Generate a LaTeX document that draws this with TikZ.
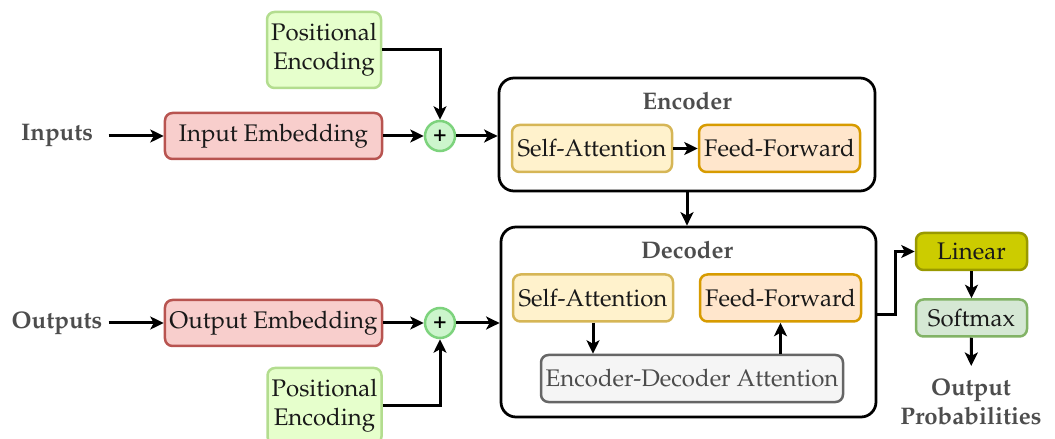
\documentclass[tikz,border=0pt]{standalone}
\usepackage[T1]{fontenc}
\usepackage{mathpazo}
\usetikzlibrary{arrows.meta,positioning}

\definecolor{embfill}{HTML}{F8CECC}
\definecolor{embline}{HTML}{B85450}
\definecolor{pefill}{HTML}{E6FFCC}
\definecolor{peline}{HTML}{B3DD8F}
\definecolor{safill}{HTML}{FFF2CC}
\definecolor{saline}{HTML}{D6B656}
\definecolor{fffill}{HTML}{FFE6CC}
\definecolor{ffline}{HTML}{D79B00}
\definecolor{edfill}{HTML}{F5F5F5}
\definecolor{edline}{HTML}{666666}
\definecolor{linfill}{HTML}{CCCC00}
\definecolor{linline}{HTML}{999900}
\definecolor{smfill}{HTML}{D5E8D4}
\definecolor{smline}{HTML}{82B366}
\definecolor{plusfill}{HTML}{CCF5CC}
\definecolor{plusline}{HTML}{7DD37D}
\definecolor{labgray}{HTML}{4D4D4D}

\tikzset{
  block/.style={draw, rounded corners=3pt, line width=1pt, align=center, inner sep=0pt, text=black!90,
    font=\fontsize{9.6pt}{11.6pt}\selectfont},
  embbox/.style={block, fill=embfill, draw=embline, minimum width=86.8pt, minimum height=18.4pt},
  pebox/.style={block, fill=pefill, draw=peline, minimum width=45.6pt, minimum height=30.4pt},
  sabox/.style={block, fill=safill, draw=saline, minimum width=64pt, minimum height=18.8pt},
  ffbox/.style={block, fill=fffill, draw=ffline, minimum width=64.4pt, minimum height=18.8pt},
  edbox/.style={block, fill=edfill, draw=edline, minimum width=120.8pt, minimum height=18.8pt, text=black!70},
  outbox/.style={block, minimum width=44.4pt, minimum height=14.8pt},
  stack/.style={draw, rounded corners=6pt, line width=1.1pt, inner sep=0pt},
  plus/.style={circle, draw=plusline, fill=plusfill, line width=1pt, minimum size=12pt, inner sep=0pt, font=\small\bfseries},
  sidelabel/.style={font=\fontsize{9.6pt}{11.6pt}\selectfont\bfseries, text=labgray, inner sep=0pt, minimum width=40.8pt},
  title/.style={font=\fontsize{9.6pt}{11.6pt}\selectfont\bfseries, text=labgray, inner sep=0pt},
  arr/.style={-{Stealth[length=5.4pt, width=5.2pt, inset=1.4pt]}, line width=1.2pt}
}

\begin{document}
\begin{tikzpicture}[x=0.4pt, y=-0.4pt]
\useasboundingbox (0,0) rectangle (1055,439);

% encoder side
\node[sidelabel] (inputs) at (57,136) {Inputs};
\node[embbox] (inemb) at (273.5,136) {Input Embedding};
\node[plus] (plusin) at (440,136) {+};
\node[pebox] (pein) at (324,50) {Positional\\Encoding};

\node[stack, minimum width=150.4pt, minimum height=45.2pt] (encoder) at (687,134.5) {};
\node[title] (enctitle) at (687,101) {Encoder};
\node[sabox] (encsa) at (592,148.5) {Self-Attention};
\node[ffbox] (encff) at (779.5,148.5) {Feed-Forward};

% decoder side
\node[sidelabel] (outputs) at (57,323) {Outputs};
\node[embbox] (outemb) at (273.5,323) {Output Embedding};
\node[plus] (plusout) at (440,323) {+};
\node[pebox] (peout) at (324.5,406) {Positional\\Encoding};

\node[stack, minimum width=150pt, minimum height=76pt] (decoder) at (688.5,322) {};
\node[title] (dectitle) at (687,250) {Decoder};
\node[sabox] (decsa) at (593,298) {Self-Attention};
\node[ffbox] (decff) at (780.5,298) {Feed-Forward};
\node[edbox] (decatt) at (692,378.5) {Encoder-Decoder Attention};

% output head
\node[outbox, fill=linfill, draw=linline] (linear) at (971.5,251.5) {Linear};
\node[outbox, fill=smfill, draw=smline] (softmax) at (971.5,318) {Softmax};
\node[title, align=center, inner sep=5pt] (probs) at (971,402) {Output\\Probabilities};

% connectors
\draw[arr] (inputs) -- (inemb);
\draw[arr] (inemb) -- (plusin);
\draw[arr] (pein) -| (plusin);
\draw[arr] (plusin) -- (plusin -| encoder.west);
\draw[arr] (encsa) -- (encff);
\draw[arr] (encoder.south) -- (encoder.south |- decoder.north);

\draw[arr] (outputs) -- (outemb);
\draw[arr] (outemb) -- (plusout);
\draw[arr] (peout) -| (plusout);
\draw[arr] (plusout) -- (plusout -| decoder.west);
\draw[arr] (decsa) -- (decsa |- decatt.north);
\draw[arr] (decatt.north -| decff) -- (decff);

\draw[arr] ([yshift=2.8pt]decoder.east) -- ++(18,0) |- (linear);
\draw[arr] (linear) -- (softmax);
\draw[arr] (softmax) -- (probs);
\end{tikzpicture}
\end{document}
